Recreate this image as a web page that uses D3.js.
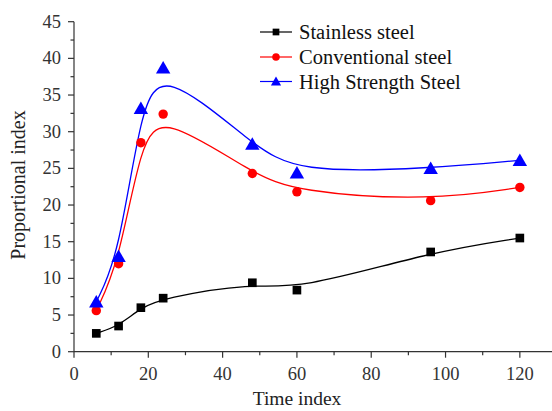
<!DOCTYPE html>
<html><head><meta charset="utf-8">
<script src="https://cdn.jsdelivr.net/npm/d3@7"></script>
<style>body{margin:0;background:#fff}svg{display:block}</style>
</head><body><svg id="c" width="552" height="411"></svg>
<script>
const times = [6, 12, 18, 24, 48, 60, 96, 120];
const stainless = [2.5, 3.5, 6.0, 7.3, 9.4, 8.4, 13.6, 15.5];
const conventional = [5.6, 12.0, 28.5, 32.4, 24.3, 21.8, 20.6, 22.4];
const highStrength = [6.8, 13.0, 33.2, 38.7, 28.3, 24.4, 25.0, 26.1];
const seriesNames = ["Stainless steel", "Conventional steel", "High Strength Steel"];
const seriesColors = ["#000000", "#ff0000", "#0000ff"];
const seriesShapes = [d3.symbolSquare, d3.symbolCircle, d3.symbolTriangle];
const xTicks = [0, 20, 40, 60, 80, 100, 120];
const yTicks = [0, 5, 10, 15, 20, 25, 30, 35, 40, 45];

const svg = d3.select("#c");
const font = "'Liberation Serif','Times New Roman',serif";
const x = d3.scaleLinear().domain([0, 130]).range([74, 557]);
const y = d3.scaleLinear().domain([0, 45]).range([351.7, 21.7]);
const axisColor = "#333";

// axes
const gx = svg.append("g").attr("transform", `translate(0,${y(0)})`);
gx.append("line").attr("x1", x(0)).attr("x2", 552).attr("stroke", axisColor).attr("stroke-width", 1.2);
gx.selectAll(".mj").data(xTicks).join("line").attr("x1", d => x(d)).attr("x2", d => x(d)).attr("y1", 0).attr("y2", 6).attr("stroke", axisColor).attr("stroke-width", 1.2);
gx.selectAll(".mn").data(d3.range(10, 130, 20)).join("line").attr("x1", d => x(d)).attr("x2", d => x(d)).attr("y1", 0).attr("y2", 3.5).attr("stroke", axisColor).attr("stroke-width", 1.2);
gx.selectAll("text").data(xTicks).join("text").attr("x", d => x(d)).attr("y", 28.5).attr("text-anchor", "middle")
  .attr("font-family", font).attr("font-size", 18.5).attr("fill", "#333").text(d => d);

const gy = svg.append("g").attr("transform", `translate(${x(0)},0)`);
gy.append("line").attr("y1", y(0)).attr("y2", y(45)).attr("stroke", axisColor).attr("stroke-width", 1.2);
gy.selectAll(".mj").data(yTicks).join("line").attr("y1", d => y(d)).attr("y2", d => y(d)).attr("x1", 0).attr("x2", -6).attr("stroke", axisColor).attr("stroke-width", 1.2);
gy.selectAll(".mn").data(d3.range(2.5, 45, 5)).join("line").attr("y1", d => y(d)).attr("y2", d => y(d)).attr("x1", 0).attr("x2", -3.5).attr("stroke", axisColor).attr("stroke-width", 1.2);
gy.selectAll("text").data(yTicks).join("text").attr("x", -13).attr("y", d => y(d) + 6).attr("text-anchor", "end")
  .attr("font-family", font).attr("font-size", 18.5).attr("fill", "#333").text(d => d);

svg.append("text").attr("x", 297).attr("y", 405).attr("text-anchor", "middle").attr("font-family", font)
  .attr("font-size", 19.5).attr("fill", "#222").text("Time index");
svg.append("text").attr("transform", "translate(25,185) rotate(-90)").attr("text-anchor", "middle").attr("font-family", font)
  .attr("font-size", 20).attr("fill", "#222").text("Proportional index");

const allSeries = [stainless, conventional, highStrength];
const line = d3.line().x(d => x(d[0])).y(d => y(d[1])).curve(d3.curveBasis);
allSeries.forEach((vals, i) => {
  const pts = times.map((t, j) => [t, vals[j]]);
  svg.append("path").datum(pts).attr("d", line).attr("fill", "none").attr("stroke", seriesColors[i]).attr("stroke-width", 1.3);
});
const sizes = [75, 70, 90];
allSeries.forEach((vals, i) => {
  const pts = times.map((t, j) => [t, vals[j]]);
  svg.selectAll(null).data(pts).join("path")
    .attr("transform", d => `translate(${x(d[0])},${y(d[1]) + (i === 2 ? 1.5 : 0)})`)
    .attr("d", d3.symbol().type(seriesShapes[i]).size(sizes[i])).attr("fill", seriesColors[i]);
});

// legend
const legY = [32, 57, 81.5];
seriesNames.forEach((n, i) => {
  const g = svg.append("g").attr("transform", `translate(0,${legY[i]})`);
  g.append("line").attr("x1", 260).attr("x2", 292).attr("stroke", seriesColors[i]).attr("stroke-width", 1.2);
  g.append("path").attr("transform", `translate(276,${i === 2 ? 1 : 0})`).attr("d", d3.symbol().type(seriesShapes[i]).size(45)).attr("fill", seriesColors[i]);
  g.append("text").attr("x", 299).attr("y", 7).attr("font-family", font).attr("font-size", 20.5).attr("fill", "#111").text(n);
});
</script></body></html>
